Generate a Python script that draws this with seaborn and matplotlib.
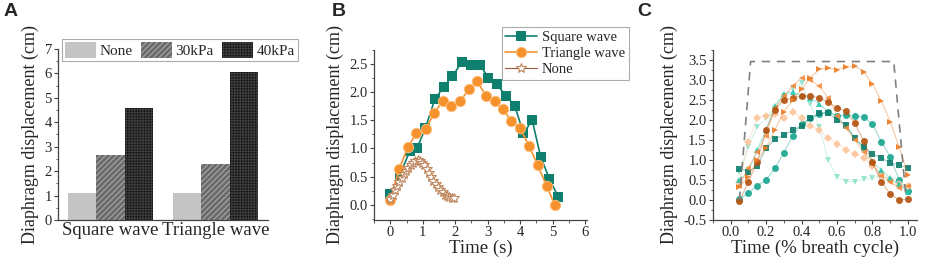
import numpy as np
import pandas as pd
import seaborn as sns
import matplotlib.pyplot as plt
from matplotlib.ticker import MultipleLocator

sns.set_style('ticks')
plt.rcParams['font.family'] = ['Liberation Serif', 'DejaVu Serif']
plt.rcParams['hatch.linewidth'] = 0.8

# ---- panel A data ----
waves = ['Square wave', 'Triangle wave']
pressures = ['None', '30kPa', '40kPa']
disp_none = [1.12, 1.12]
disp_30 = [2.67, 2.27]
disp_40 = [4.58, 6.05]

# ---- panel B data ----
t_square = [0.0, 0.29, 0.6, 0.82, 1.08, 1.37, 1.65, 1.91, 2.2, 2.47, 2.76, 3.02, 3.28, 3.55, 3.83, 4.1, 4.37, 4.63, 4.9, 5.17]
y_square = [0.19, 0.53, 0.95, 1.0, 1.36, 1.87, 2.1, 2.28, 2.53, 2.48, 2.48, 2.26, 2.14, 1.94, 1.76, 1.27, 1.5, 0.85, 0.46, 0.14]
t_tri = [0.0, 0.27, 0.54, 0.8, 1.09, 1.35, 1.62, 1.88, 2.15, 2.42, 2.67, 2.94, 3.21, 3.47, 3.73, 3.99, 4.27, 4.54, 4.81, 5.07]
y_tri = [0.09, 0.63, 1.02, 1.27, 1.34, 1.63, 1.84, 1.75, 1.84, 2.05, 2.2, 1.94, 1.84, 1.7, 1.48, 1.36, 1.05, 0.7, 0.34, -0.01]
t_none = [0.0, 0.07, 0.14, 0.21, 0.28, 0.35, 0.42, 0.49, 0.56, 0.63, 0.7, 0.77, 0.84, 0.91, 0.98, 1.05, 1.12, 1.19,
          1.26, 1.33, 1.4, 1.47, 1.54, 1.61, 1.68, 1.75, 1.82, 1.89, 1.96]
y_none = [0.1, 0.18, 0.26, 0.33, 0.4, 0.47, 0.54, 0.6, 0.66, 0.71, 0.75, 0.78, 0.79, 0.78, 0.75, 0.7, 0.64, 0.57, 0.5,
          0.43, 0.37, 0.31, 0.26, 0.22, 0.18, 0.15, 0.13, 0.12, 0.12]

# ---- panel C data ----
cycle = [0.05, 0.1, 0.15, 0.2, 0.25, 0.3, 0.35, 0.4, 0.45, 0.5, 0.55, 0.6, 0.65, 0.7, 0.75, 0.8, 0.85, 0.9, 0.95, 1.0]
c_sq_dark = [0.78, 0.71, 0.85, 1.29, 1.52, 1.62, 1.74, 1.85, 2.04, 2.17, 2.17, 2.0, 1.87, 1.54, 1.33, 1.14, 1.06, 0.92, 0.88, 0.79]
c_circ_teal = [0.02, 0.18, 0.35, 0.5, 0.79, 1.18, 1.6, 1.9, 2.04, 2.15, 2.2, 2.1, 2.12, 2.1, 2.08, 1.89, 1.46, 1.08, 0.5, 0.23]
c_tri_up = [0.5, 0.7, 1.25, 1.75, 2.35, 2.65, 2.7, 2.6, 2.55, 2.4, 2.2, 2.1, 1.85, 1.55, 1.3, 0.95, 0.75, 0.55, 0.4, 0.2]
c_tri_down = [0.7, 1.33, 1.83, 2.05, 2.3, 2.6, 2.8, 2.93, 2.4, 1.83, 1.0, 0.58, 0.46, 0.46, 0.52, 0.55, 0.6, 0.5, 0.4, 0.3]
c_diamond = [0.45, 1.45, 2.05, 2.1, 2.15, 2.05, 2.2, 2.05, 1.85, 1.75, 1.55, 1.4, 1.25, 1.15, 1.05, 0.85, 0.65, 0.5, 0.4, 0.35]
c_tri_left = [0.35, 0.8, 1.2, 1.6, 2.3, 2.6, 2.85, 3.05, 3.0, 2.85, 2.55, 2.1, 1.8, 1.5, 1.2, 0.9, 0.6, 0.45, 0.3, 0.35]
c_tri_right = [0.33, 0.58, 1.0, 1.3, 1.75, 2.21, 2.5, 2.77, 3.05, 3.27, 3.3, 3.26, 3.32, 3.35, 3.21, 2.89, 2.48, 1.96, 1.33, 0.63]
c_circ_brown = [-0.03, 0.45, 0.95, 1.75, 2.25, 2.5, 2.55, 2.6, 2.6, 2.55, 2.45, 2.3, 2.22, 1.92, 1.48, 0.95, 0.45, 0.15, 0.0, 0.02]
envelope_x = [0.05, 0.113, 0.92, 0.99]
envelope_y = [0.0, 3.46, 3.46, 0.0]

fig = plt.figure(figsize=(9.27, 2.6), dpi=100)
axA = fig.add_axes([0.0626, 0.154, 0.2265, 0.658])
axB = fig.add_axes([0.4035, 0.154, 0.2295, 0.654])
axC = fig.add_axes([0.769, 0.154, 0.22, 0.654])

tick_fs = 10.5
label_fs = 13

# ---------- A ----------
dfA = pd.DataFrame({
    'wave': waves * 3,
    'pressure': [p for p in pressures for _ in waves],
    'disp': disp_none + disp_30 + disp_40,
})
sns.barplot(data=dfA, x='wave', y='disp', hue='pressure', hue_order=pressures,
            palette=['#c4c4c4', '#6a6a6a', '#101010'], width=0.81, ax=axA,
            saturation=1, errorbar=None)
hatch_cfg = [(None, '#c4c4c4'), ('//////', '#a8a8a8'), ('++++++', '#3c3c3c')]
for cont, (h, ec) in zip(axA.containers, hatch_cfg):
    for p in cont:
        p.set_linewidth(0)
        if h:
            p.set_hatch(h)
            p.set_edgecolor(ec)
axA.set_ylim(0, 7)
axA.set_xlim(-0.5, 1.5)
axA.yaxis.set_major_locator(MultipleLocator(1))
axA.yaxis.set_minor_locator(MultipleLocator(0.5))
axA.set_xlabel('')
axA.set_ylabel('Diaphragm displacement (cm)', fontsize=label_fs)
axA.tick_params(axis='x', labelsize=13.5, length=0)
axA.tick_params(axis='y', labelsize=tick_fs)
leg = axA.legend(loc='upper left', bbox_to_anchor=(0.02, 1.06), ncol=3, fontsize=11,
                 frameon=True, fancybox=False, handlelength=2.0, handleheight=1.3,
                 columnspacing=0.55, handletextpad=0.25, borderpad=0.2, borderaxespad=0)
leg.get_frame().set_edgecolor('#999999')
leg.get_frame().set_linewidth(0.8)
for h, (hh, ec) in zip(leg.legend_handles, hatch_cfg):
    h.set_linewidth(0)
    if hh:
        h.set_hatch(hh)
        h.set_edgecolor(ec)

# ---------- B ----------
teal = '#0f7f6e'
orange = '#f5922e'
brown = '#9a5a3a'
sns.lineplot(x=t_square, y=y_square, ax=axB, color=teal, marker='s', markersize=6.5,
             markeredgewidth=0, lw=1.2, label='Square wave', sort=False)
sns.lineplot(x=t_tri, y=y_tri, ax=axB, color=orange, marker='o', markersize=7.5,
             markerfacecolor=orange, markeredgecolor='#ffc080', markeredgewidth=0.6,
             lw=1.2, label='Triangle wave', sort=False)
sns.lineplot(x=t_none, y=y_none, ax=axB, color=brown, marker='*', markersize=7,
             markerfacecolor='white', markeredgecolor='#c08860', markeredgewidth=0.8,
             lw=0.8, label='None', sort=False)
axB.set_xlim(-0.5, 6.05)
axB.set_ylim(-0.27, 2.75)
axB.xaxis.set_major_locator(MultipleLocator(1))
axB.xaxis.set_minor_locator(MultipleLocator(0.5))
axB.yaxis.set_major_locator(MultipleLocator(0.5))
axB.yaxis.set_minor_locator(MultipleLocator(0.25))
axB.yaxis.set_major_formatter(plt.FormatStrFormatter('%.1f'))
axB.set_xlabel('Time (s)', fontsize=13.5, labelpad=0)
axB.set_ylabel('Diaphragm displacement (cm)', fontsize=label_fs)
axB.tick_params(labelsize=tick_fs)
legB = axB.legend(loc='upper left', bbox_to_anchor=(0.60, 1.135), fontsize=10.5, frameon=True,
                  fancybox=False, handlelength=2.2, handletextpad=0.3, borderpad=0.25,
                  labelspacing=0.2, borderaxespad=0)
legB.get_frame().set_edgecolor('#999999')
legB.get_frame().set_linewidth(0.8)

# ---------- C ----------
seriesC = [
    (c_circ_teal, '#16a58e', 'o'),
    (c_tri_down, '#8fe3cb', 'v'),
    (c_diamond, '#fdc49a', 'D'),
    (c_tri_up, '#25c4ad', '^'),
    (c_sq_dark, '#0e7d6d', 's'),
    (c_tri_left, '#f58a3c', '<'),
    (c_circ_brown, '#b4500c', 'o'),
    (c_tri_right, '#ec7a20', '>'),
]
for vals, col, mk in seriesC:
    ms = 4.3 if mk == 'D' else 5
    sns.lineplot(x=cycle, y=vals, ax=axC, color=col, lw=0.8, alpha=0.4, sort=False)
    axC.plot(cycle, vals, ls='none', marker=mk, color=col, markersize=ms,
             markeredgewidth=0, alpha=0.9)
axC.plot(envelope_x, envelope_y, color='#808080', lw=1.2, ls=(0, (5, 4)))
axC.set_xlim(-0.1, 1.05)
axC.set_ylim(-0.5, 3.75)
axC.xaxis.set_major_locator(MultipleLocator(0.2))
axC.xaxis.set_minor_locator(MultipleLocator(0.1))
axC.yaxis.set_major_locator(MultipleLocator(0.5))
axC.yaxis.set_minor_locator(MultipleLocator(0.25))
axC.yaxis.set_major_formatter(plt.FormatStrFormatter('%.1f'))
axC.xaxis.set_major_formatter(plt.FormatStrFormatter('%.1f'))
axC.set_xlabel('Time (% breath cycle)', fontsize=13.5, labelpad=0)
axC.set_ylabel('Diaphragm displacement (cm)', fontsize=label_fs)
axC.tick_params(labelsize=tick_fs)

for ax in (axA, axB, axC):
    sns.despine(ax=ax)
    for s in ('left', 'bottom'):
        ax.spines[s].set_color('#444444')
        ax.spines[s].set_linewidth(0.9)
    ax.tick_params(which='major', length=3, width=0.8, color='#444444', pad=1.5)
    ax.tick_params(which='minor', length=1.8, width=0.6, color='#444444')
axA.tick_params(axis='x', which='both', length=0)

for x, lab in [(0.004, 'A'), (0.358, 'B'), (0.687, 'C')]:
    fig.text(x, 0.99, lab, fontsize=14, fontweight='bold', va='top',
             family=['Liberation Sans', 'DejaVu Sans'])

fig.savefig('out.png', dpi=100)
